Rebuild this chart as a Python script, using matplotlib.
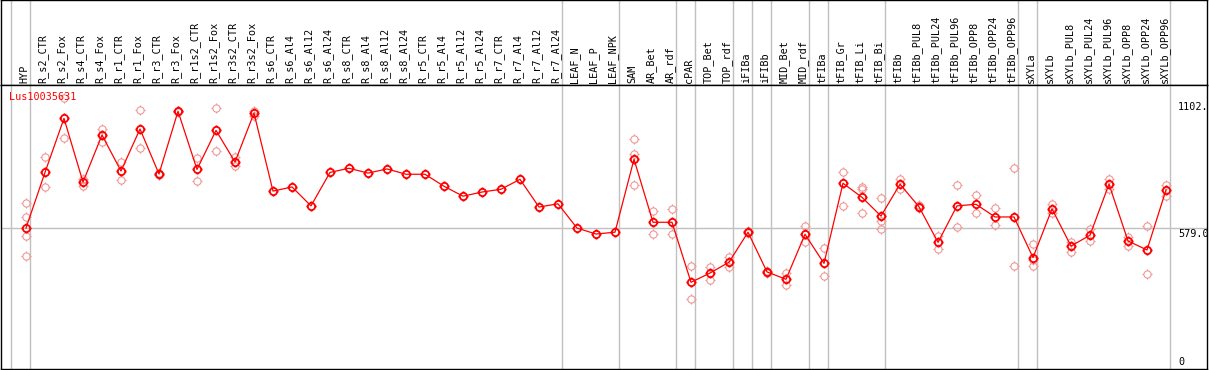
import matplotlib
matplotlib.use("Agg")
import matplotlib.pyplot as plt
from matplotlib.path import Path
import matplotlib.transforms as mtransforms

gene = "Lus10035631"

# sample groups (group separators are drawn between them)
groups = [
    ["HYP"],
    ["R_s2_CTR", "R_s2_Fox", "R_s4_CTR", "R_s4_Fox", "R_r1_CTR", "R_r1_Fox",
     "R_r3_CTR", "R_r3_Fox", "R_r1s2_CTR", "R_r1s2_Fox", "R_r3s2_CTR", "R_r3s2_Fox",
     "R_s6_CTR", "R_s6_Al4", "R_s6_Al12", "R_s6_Al24", "R_s8_CTR", "R_s8_Al4",
     "R_s8_Al12", "R_s8_Al24", "R_r5_CTR", "R_r5_Al4", "R_r5_Al12", "R_r5_Al24",
     "R_r7_CTR", "R_r7_Al4", "R_r7_Al12", "R_r7_Al24"],
    ["LEAF_N", "LEAF_P", "LEAF_NPK"],
    ["SAM", "AR_Bet", "AR_rdf"],
    ["cPAR"],
    ["TOP_Bet", "TOP_rdf"],
    ["iFIBa"],
    ["iFIBb"],
    ["MID_Bet", "MID_rdf"],
    ["tFIBa"],
    ["tFIB_Gr", "tFIB_Li", "tFIB_Bi"],
    ["tFIBb", "tFIBb_PUL8", "tFIBb_PUL24", "tFIBb_PUL96", "tFIBb_OPP8",
     "tFIBb_OPP24", "tFIBb_OPP96"],
    ["sXYLa"],
    ["sXYLb", "sXYLb_PUL8", "sXYLb_PUL24", "sXYLb_PUL96", "sXYLb_OPP8",
     "sXYLb_OPP24", "sXYLb_OPP96"],
]

# mean expression per sample
means = [579, 820, 1054, 778, 982, 826, 1008, 813, 1085, 833, 1002, 865, 1077,
         739, 757, 675, 820, 838, 817, 835, 812, 812, 760, 717, 735, 747, 790, 670, 684,
         579, 553, 561,
         877, 604, 604,
         344,
         384, 431,
         561, 389,
         357, 552,
         426,
         773, 712, 631,
         769, 671, 517, 675, 682, 627, 627,
         451,
         662, 501, 548, 769, 523, 484, 744]

# individual replicates per sample
reps = [[686, 627, 545, 458], [885, 756], [1141, 968], [790, 762], [1008, 953],
        [865, 787], [1089, 924], [816, 810], [1087, 1082], [881, 783], [1099, 911],
        [888, 846], [1087, 1064],
        [], [], [], [], [], [], [], [], [], [], [], [], [], [], [], [],
        [], [], [],
        [963, 901, 764], [652, 552], [662, 552],
        [415, 270],
        [410, 355], [455, 412],
        [565, 557], [392, 386],
        [384, 334], [588, 520],
        [491, 370],
        [822, 675], [756, 747, 643], [709, 611, 574],
        [790, 747], [678, 665], [546, 488], [764, 582], [721, 643], [666, 591], [838, 415],
        [509, 440, 413],
        [682, 643], [520, 474], [575, 524], [793, 749], [539, 503], [588, 380], [765, 718]]

ytick_vals = [1102, 579, 0]
ytick_text = ["1102.", "579.0", "0"]

labels = [s for g in groups for s in g]
n = len(labels)

# circle marker with four small ticks
circ = Path.unit_circle()
tk = 1.4
ticks = [Path([(0, 1), (0, tk)]), Path([(0, -1), (0, -tk)]),
         Path([(1, 0), (tk, 0)]), Path([(-1, 0), (-tk, 0)])]
mk = Path.make_compound_path(circ, *ticks)

W, H = 1209, 370
fig = plt.figure(figsize=(W / 100, H / 100), dpi=100)
x0, x1 = 1, 1207
top, mid, bot = 0, 85, 369
ax_h = fig.add_axes([x0 / W, (H - mid) / H, (x1 - x0) / W, (mid - top) / H])
ax = fig.add_axes([x0 / W, (H - bot) / H, (x1 - x0) / W, (bot - mid) / H])

# one column = 19 px, first column starts at px 11
xmin = (x0 - 11) / 19
xmax = (x1 - 11) / 19
for a in (ax, ax_h):
    a.set_xlim(xmin, xmax)
    a.set_xticks([])
    a.set_yticks([])
    for s in a.spines.values():
        s.set_color("black")
        s.set_linewidth(1.0)
ax_h.set_ylim(0, 1)
ax.set_ylim(-31.6, 1198.6)

# group separators
b = 0
bounds = [0]
for g in groups:
    b += len(g)
    bounds.append(b)
for bx in bounds:
    ax.axvline(bx, color="#c0c0c0", lw=1.0, zorder=0)
    ax_h.axvline(bx, color="#c0c0c0", lw=1.0, zorder=0)
ax.axhline(ytick_vals[1], xmin=0, xmax=1, color="#c0c0c0", lw=1.0, zorder=0)

font = dict(family="DejaVu Sans Mono", fontsize=7.3)

# sample names
trans_h = mtransforms.blended_transform_factory(ax_h.transData, ax_h.transAxes)
for i, lab in enumerate(labels):
    ax_h.text(i + 13 / 19, 0.02, lab, rotation=90, ha="center", va="bottom",
              transform=trans_h, color="black", **font)

# points
px = [i + 15 / 19 for i in range(n)]
for i, r in enumerate(reps):
    if r:
        ax.plot([px[i]] * len(r), r, linestyle="none", marker=mk, markersize=7.3,
                markerfacecolor="none", markeredgecolor="#f09898", markeredgewidth=0.8,
                zorder=2)
ax.plot(px, means, color="red", lw=0.9, zorder=3)
ax.plot(px, means, linestyle="none", marker=mk, markersize=7.3,
        markerfacecolor="none", markeredgecolor="red", markeredgewidth=1.3, zorder=4)

# value labels on the right
lx = (1178 - 11) / 19
ax.text(lx, ytick_vals[0], ytick_text[0], ha="left", va="center", **font)
ax.text(lx, ytick_vals[1] - 3, ytick_text[1], ha="left", va="top", **font)
ax.text(lx, ytick_vals[2], ytick_text[2], ha="left", va="center", **font)

ax.text(0.0069, 0.957, gene, transform=ax.transAxes, ha="left", va="center",
        color="red", **font)

fig.savefig("out.png", dpi=100)
